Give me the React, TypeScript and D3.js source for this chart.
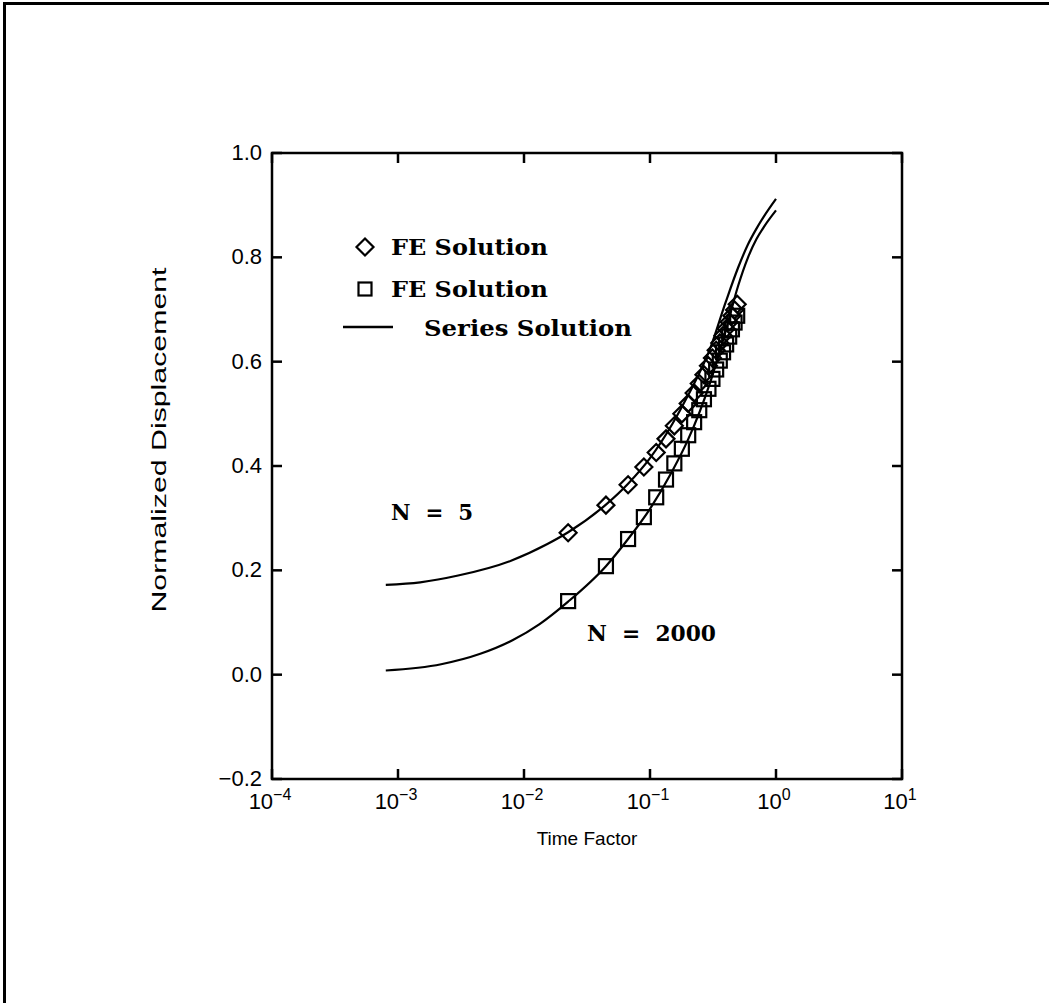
import React from "react";
import * as d3 from "d3";

// ---------- data ----------
const feTimes = [0.0224, 0.0447, 0.067, 0.0894, 0.112, 0.134, 0.156, 0.179, 0.201, 0.224, 0.246, 0.268, 0.291, 0.313, 0.335, 0.358, 0.380, 0.402, 0.425, 0.447, 0.469, 0.492];
const feN5 = [0.272, 0.325, 0.364, 0.398, 0.426, 0.452, 0.477, 0.500, 0.520, 0.540, 0.558, 0.575, 0.592, 0.607, 0.622, 0.636, 0.650, 0.663, 0.676, 0.688, 0.699, 0.710];
const feN2000 = [0.141, 0.208, 0.260, 0.302, 0.340, 0.374, 0.405, 0.433, 0.459, 0.484, 0.507, 0.528, 0.548, 0.567, 0.585, 0.602, 0.618, 0.633, 0.648, 0.662, 0.675, 0.688];

const seriesN5T = [0.0008, 0.0015, 0.003, 0.0078, 0.0152, 0.0224, 0.0447, 0.067, 0.1, 0.15, 0.2, 0.3, 0.4, 0.5, 0.6, 0.7, 0.8, 1.0];
const seriesN5U = [0.172, 0.177, 0.190, 0.218, 0.250, 0.273, 0.326, 0.366, 0.415, 0.480, 0.535, 0.625, 0.715, 0.780, 0.825, 0.855, 0.878, 0.912];
const seriesN2000T = [0.0008, 0.0022, 0.0045, 0.0081, 0.0133, 0.0224, 0.0447, 0.067, 0.1, 0.15, 0.2, 0.3, 0.4, 0.5, 0.6, 0.7, 0.8, 1.0];
const seriesN2000U = [0.008, 0.020, 0.040, 0.066, 0.097, 0.140, 0.208, 0.260, 0.318, 0.390, 0.450, 0.560, 0.660, 0.745, 0.800, 0.835, 0.858, 0.890];

const xTicks = [1e-4, 1e-3, 1e-2, 1e-1, 1, 10];
const xTickExp = ["\u22124", "\u22123", "\u22122", "\u22121", "0", "1"];
const yTicks = [-0.2, 0.0, 0.2, 0.4, 0.6, 0.8, 1.0];
const yTickLabels = ["\u22120.2", "0.0", "0.2", "0.4", "0.6", "0.8", "1.0"];

const legendLabels = ["FE Solution", "FE Solution", "Series Solution"];
const annotations = ["N  =  5", "N  =  2000"];
const xTitle = "Time Factor";
const yTitle = "Normalized Displacement";

// ---------- layout ----------
const W = 1049;
const H = 1003;
const L = 272, R = 902, T = 153, B = 779;

export default function App() {
  const x = d3.scaleLog().domain([1e-4, 10]).range([L, R]);
  const y = d3.scaleLinear().domain([-0.2, 1.0]).range([B, T]);
  const line = d3
    .line<[number, number]>()
    .x((d) => x(d[0]))
    .y((d) => y(d[1]))
    .curve(d3.curveMonotoneX);

  const s5 = seriesN5T.map((t, i) => [t, seriesN5U[i]] as [number, number]);
  const s2000 = seriesN2000T.map((t, i) => [t, seriesN2000U[i]] as [number, number]);

  const sansFont = "'Liberation Sans', Arial, Helvetica, sans-serif";
  const serifFont = "'DejaVu Serif', serif";
  const tick = 10;
  const dh = 8.5; // diamond half diagonal
  const sq = 14; // square side

  return (
    <svg
      width={W}
      height={H}
      style={{ position: "absolute", left: 0, top: 0, background: "#fff" }}
    >
      {/* outer frame (top & left) */}
      <line x1={3} y1={3.5} x2={W} y2={3.5} stroke="#000" strokeWidth={3} />
      <line x1={4.5} y1={2} x2={4.5} y2={H} stroke="#000" strokeWidth={3} />

      {/* plot box */}
      <rect x={L} y={T} width={R - L} height={B - T} fill="none" stroke="#000" strokeWidth={2.5} />

      {/* x ticks */}
      {xTicks.map((v, i) => (
        <g key={"xt" + i}>
          <line x1={x(v)} x2={x(v)} y1={B} y2={B - tick} stroke="#000" strokeWidth={2.5} />
          <line x1={x(v)} x2={x(v)} y1={T} y2={T + tick} stroke="#000" strokeWidth={2.5} />
          <text x={x(v) - 2} y={809} textAnchor="middle" fontFamily={sansFont} fontSize={22} fill="#000">
            10
            <tspan dy={-9} fontSize={16}>{xTickExp[i]}</tspan>
          </text>
        </g>
      ))}

      {/* y ticks */}
      {yTicks.map((v, i) => (
        <g key={"yt" + i}>
          <line x1={L} x2={L + tick} y1={y(v)} y2={y(v)} stroke="#000" strokeWidth={2.5} />
          <line x1={R} x2={R - tick} y1={y(v)} y2={y(v)} stroke="#000" strokeWidth={2.5} />
          <text x={262} y={y(v) + 7} textAnchor="end" fontFamily={sansFont} fontSize={22} fill="#000">
            {yTickLabels[i]}
          </text>
        </g>
      ))}

      {/* axis titles */}
      <text x={587} y={845} textAnchor="middle" fontFamily={sansFont} fontSize={19} fill="#000">
        {xTitle}
      </text>
      <text
        transform={`translate(166, 440) rotate(-90)`}
        textAnchor="middle"
        fontFamily={sansFont}
        fontSize={21}
        textLength={345}
        lengthAdjust="spacingAndGlyphs"
        fill="#000"
      >
        {yTitle}
      </text>

      {/* series solution lines */}
      <path d={line(s5) || ""} fill="none" stroke="#000" strokeWidth={2.2} />
      <path d={line(s2000) || ""} fill="none" stroke="#000" strokeWidth={2.2} />

      {/* FE markers N=5 (diamonds) */}
      {feTimes.map((t, i) => {
        const cx = x(t), cy = y(feN5[i]);
        return (
          <path
            key={"d" + i}
            d={`M${cx},${cy - dh}L${cx + dh},${cy}L${cx},${cy + dh}L${cx - dh},${cy}Z`}
            fill="none"
            stroke="#000"
            strokeWidth={2.2}
          />
        );
      })}
      {/* FE markers N=2000 (squares) */}
      {feTimes.map((t, i) => (
        <rect
          key={"s" + i}
          x={x(t) - sq / 2}
          y={y(feN2000[i]) - sq / 2}
          width={sq}
          height={sq}
          fill="none"
          stroke="#000"
          strokeWidth={2.2}
        />
      ))}

      {/* legend */}
      <path d={`M365,${247 - dh}L${365 + dh},247L365,${247 + dh}L${365 - dh},247Z`} fill="none" stroke="#000" strokeWidth={2.2} />
      <rect x={365 - 6.5} y={289 - 6.5} width={13} height={13} fill="none" stroke="#000" strokeWidth={2.2} />
      <line x1={343} x2={393} y1={327} y2={327} stroke="#000" strokeWidth={2.5} />
      <text x={391} y={255} fontFamily={serifFont} fontWeight="bold" fontSize={22} textLength={157} lengthAdjust="spacingAndGlyphs" fill="#000">
        {legendLabels[0]}
      </text>
      <text x={391} y={297} fontFamily={serifFont} fontWeight="bold" fontSize={22} textLength={157} lengthAdjust="spacingAndGlyphs" fill="#000">
        {legendLabels[1]}
      </text>
      <text x={424} y={336} fontFamily={serifFont} fontWeight="bold" fontSize={22} textLength={208} lengthAdjust="spacingAndGlyphs" fill="#000">
        {legendLabels[2]}
      </text>

      {/* annotations */}
      <text x={391} y={520} fontFamily={serifFont} fontWeight="bold" fontSize={22} textLength={82} lengthAdjust="spacingAndGlyphs" xmlSpace="preserve" fill="#000">
        {annotations[0]}
      </text>
      <text x={587} y={641} fontFamily={serifFont} fontWeight="bold" fontSize={22} textLength={129} lengthAdjust="spacingAndGlyphs" xmlSpace="preserve" fill="#000">
        {annotations[1]}
      </text>
    </svg>
  );
}
